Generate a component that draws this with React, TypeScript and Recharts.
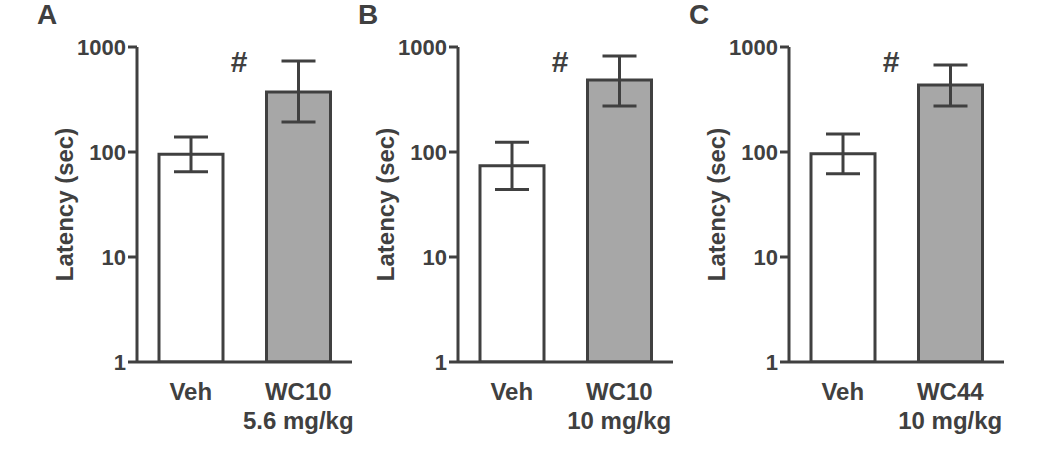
import { BarChart, Bar, XAxis, YAxis, ErrorBar, Cell } from 'recharts'

// three panels: vehicle vs drug, latency on a log axis
const panelLetters = ['A', 'B', 'C']
const vehName = 'Veh'
const drugNames = ['WC10', 'WC10', 'WC44']
const drugDoses = ['5.6 mg/kg', '10 mg/kg', '10 mg/kg']
const vehMean = [95, 74, 96]
const vehLow = [65, 44, 62]
const vehHigh = [139, 124, 148]
const drugMean = [373, 485, 434]
const drugLow = [193, 274, 274]
const drugHigh = [736, 820, 674]
const yTicks = [1, 10, 100, 1000]
const sigMark = '#'

const INK = '#404040'
const GREY = '#a7a7a7'
const FONT = '"Liberation Sans", Arial, Helvetica, sans-serif'
const PANEL_LEFT = [0, 321, 652]

function panelData(i: number) {
  return [
    { name: vehName, dose: '', value: vehMean[i], err: [vehMean[i] - vehLow[i], vehHigh[i] - vehMean[i]], fill: '#ffffff' },
    { name: drugNames[i], dose: drugDoses[i], value: drugMean[i], err: [drugMean[i] - drugLow[i], drugHigh[i] - drugMean[i]], fill: GREY },
  ]
}

function Panel({ i }: { i: number }) {
  const data = panelData(i)
  const CatTick = (props: any) => {
    const { x, y, index } = props
    const d = data[index]
    return (
      <text x={x} y={y} textAnchor="middle" fill={INK} fontSize={24} fontWeight="bold" fontFamily={FONT}>
        <tspan x={x} dy={38}>{d.name}</tspan>
        {d.dose && <tspan x={x} dy={29}>{d.dose}</tspan>}
      </text>
    )
  }
  return (
    <div style={{ position: 'absolute', left: PANEL_LEFT[i], top: 0 }}>
      <BarChart width={362} height={473} data={data} margin={{ top: 47, right: 10, bottom: 0, left: 0 }}>
        <XAxis
          dataKey="name"
          height={111}
          tickLine={false}
          tickSize={0}
          tickMargin={0}
          axisLine={{ stroke: INK, strokeWidth: 3 }}
          tick={<CatTick />}
          interval={0}
        />
        <YAxis
          width={137}
          scale="log"
          domain={[1, 1000]}
          ticks={yTicks}
          allowDataOverflow
          interval={0}
          tickSize={9}
          tickMargin={2}
          tickLine={{ stroke: INK, strokeWidth: 3 }}
          axisLine={{ stroke: INK, strokeWidth: 3 }}
          tick={{ fill: INK, fontSize: 22, fontWeight: 'bold', fontFamily: FONT }}
          label={{ value: 'Latency (sec)', angle: -90, position: 'center', dx: -4, fill: INK, fontSize: 24, fontWeight: 'bold', fontFamily: FONT }}
        />
        <Bar dataKey="value" barSize={64} stroke={INK} strokeWidth={3} isAnimationActive={false}>
          {data.map((d, k) => (
            <Cell key={`c-${k}`} fill={d.fill} />
          ))}
          <ErrorBar dataKey="err" direction="y" width={17} stroke={INK} strokeWidth={3} isAnimationActive={false} />
        </Bar>
      </BarChart>
      <div style={{ position: 'absolute', left: 37, top: 1, fontSize: 28, lineHeight: '28px', fontWeight: 'bold', fontFamily: FONT, color: INK }}>
        {panelLetters[i]}
      </div>
      <div style={{ position: 'absolute', left: 224, top: 47, width: 30, textAlign: 'center', fontSize: 30, lineHeight: '30px', fontWeight: 'bold', fontFamily: FONT, color: INK }}>
        {sigMark}
      </div>
    </div>
  )
}

export default function App() {
  return (
    <div style={{ position: 'absolute', left: 0, top: 0, width: 1050, height: 473, background: '#fff', overflow: 'hidden' }}>
      {panelLetters.map((_, i) => (
        <Panel key={i} i={i} />
      ))}
    </div>
  )
}
